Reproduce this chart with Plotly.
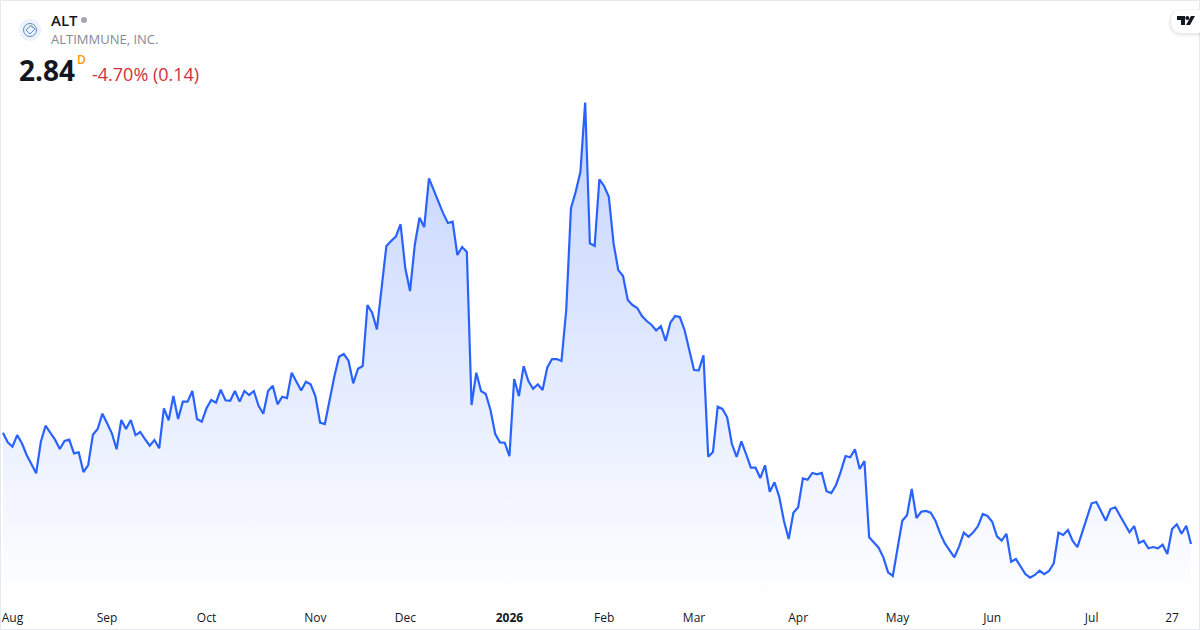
import plotly.graph_objects as go

prices = [
3.709,3.634,3.600,3.691,3.627,3.535,3.465,3.392,3.639,3.764,
3.709,3.655,3.582,3.645,3.655,3.548,3.556,3.402,3.457,3.694,
3.738,3.858,3.783,3.705,3.580,3.809,3.738,3.809,3.691,3.715,
3.660,3.608,3.652,3.588,3.900,3.806,3.996,3.816,3.952,3.952,
4.035,3.816,3.795,3.900,3.965,3.944,4.045,3.963,3.959,4.035,
3.952,4.035,4.004,4.035,3.920,3.858,4.035,4.077,3.931,3.991,
3.980,4.178,4.108,4.039,4.108,4.088,3.996,3.788,3.777,3.978,
4.147,4.303,4.324,4.272,4.095,4.209,4.230,4.707,4.647,4.517,
4.850,5.168,5.207,5.241,5.338,4.994,4.816,5.176,5.389,5.316,
5.697,5.605,5.514,5.423,5.348,5.358,5.098,5.160,5.121,3.926,
4.178,4.035,4.012,3.887,3.699,3.634,3.631,3.527,4.129,3.996,
4.230,4.113,4.053,4.088,4.043,4.220,4.285,4.285,4.270,4.668,
5.463,5.592,5.748,6.288,5.189,5.168,5.689,5.637,5.553,5.189,
4.980,4.934,4.746,4.707,4.684,4.621,4.582,4.553,4.509,4.541,
4.426,4.569,4.621,4.613,4.512,4.355,4.199,4.197,4.314,3.522,
3.559,3.913,3.895,3.830,3.621,3.520,3.642,3.543,3.436,3.436,
3.355,3.455,3.248,3.322,3.209,3.020,2.879,3.084,3.127,3.353,
3.342,3.395,3.384,3.395,3.252,3.238,3.301,3.405,3.527,3.517,
3.580,3.426,3.488,2.892,2.855,2.811,2.736,2.619,2.590,2.824,
3.022,3.064,3.270,3.043,3.092,3.098,3.084,3.022,2.923,2.845,
2.793,2.736,2.819,2.928,2.897,2.931,2.980,3.074,3.059,3.014,
2.900,2.866,2.920,2.702,2.723,2.663,2.605,2.577,2.598,2.631,
2.605,2.629,2.689,2.928,2.910,2.949,2.863,2.816,2.928,3.041,
3.158,3.168,3.088,3.022,3.113,3.127,3.061,2.996,2.931,2.980,
2.848,2.866,2.806,2.816,2.806,2.834,2.762,2.957,2.994,2.920,
2.983,2.840,
]
sessions = list(range(len(prices)))
tick_sessions = [2, 22, 43, 66, 85, 107, 127, 146, 168, 189, 209, 230, 247]
tick_labels = ["Aug", "Sep", "Oct", "Nov", "Dec", "<b>2026</b>", "Feb", "Mar", "Apr", "May", "Jun", "Jul", "27"]

W, H, MB = 1200, 630, 27
PH = H - MB
FONT = "Open Sans"
LINE = "#2962FF"


def px(x):
    return x / W


def py(y):
    return 1 - y / PH


def path(points, close=True):
    s = "M" + " L".join(f"{px(x):.5f},{py(y):.5f}" for x, y in points)
    return s + (" Z" if close else "")


def circle(cx, cy, r, **kw):
    return dict(type="circle", xref="paper", yref="paper", x0=px(cx - r), x1=px(cx + r),
                y0=py(cy + r), y1=py(cy - r), **kw)


def pill(x0, y0, x1, y1, r, fill):
    s = (f"M{px(x1)},{py(y0)} L{px(x0 + r)},{py(y0)} "
         f"Q{px(x0)},{py(y0)} {px(x0)},{py(y0 + r)} L{px(x0)},{py(y1 - r)} "
         f"Q{px(x0)},{py(y1)} {px(x0 + r)},{py(y1)} L{px(x1)},{py(y1)} Z")
    return dict(type="path", xref="paper", yref="paper", path=s, fillcolor=fill, line_width=0)


def label(x, y, text, size, color, weight=400):
    return dict(xref="paper", yref="paper", x=px(x), y=py(y), text=text, showarrow=False,
                xanchor="left", yanchor="middle", xshift=-1, yshift=1, borderpad=0, align="left",
                font=dict(family=FONT, size=size, color=color, weight=weight))


fig = go.Figure(go.Scatter(
    x=sessions, y=prices, mode="lines", line=dict(color=LINE, width=2.2), fill="tozeroy",
    fillgradient=dict(type="vertical", start=6.29, stop=2.40,
                      colorscale=[[0, "rgba(41,98,255,0.28)"], [1, "rgba(41,98,255,0)"]]),
    hoverinfo="skip", showlegend=False))

shapes = [
    dict(type="rect", xref="paper", yref="paper", x0=px(0.5), x1=px(1199.5), y0=py(629.5), y1=py(0.5),
         line=dict(color="#E6E8EE", width=1), fillcolor="rgba(0,0,0,0)"),
    circle(30, 30, 11, fillcolor="#EEF2FB", line_width=0),
    circle(30, 30, 6.5, fillcolor="rgba(0,0,0,0)", line=dict(color="#5B8DC9", width=1)),
    dict(type="path", xref="paper", yref="paper", path=path([(26, 30), (31, 25.5), (35, 29), (30, 34)]),
         fillcolor="rgba(0,0,0,0)", line=dict(color="#5B8DC9", width=1)),
    dict(type="path", xref="paper", yref="paper", path=path([(27.5, 28.5), (30.5, 25.5), (33, 28)], close=False),
         fillcolor="rgba(0,0,0,0)", line=dict(color="#6DB58A", width=1)),
    circle(84, 20, 3, fillcolor="#A3A6AF", line_width=0),
    pill(1168, 9, 1200, 37, 14, "rgba(0,0,0,0.02)"),
    pill(1169, 9.5, 1200, 36, 13, "rgba(0,0,0,0.03)"),
    pill(1170, 10, 1200, 34.5, 12, "rgba(0,0,0,0.03)"),
    pill(1171, 10, 1200, 33, 11, "#FFFFFF"),
    dict(type="path", xref="paper", yref="paper", fillcolor="#131722", line_width=0,
         path=path([(1177, 16), (1185, 16), (1185, 25), (1181, 25), (1181, 20), (1177, 20)])),
    circle(1187.3, 18, 2, fillcolor="#131722", line_width=0),
    dict(type="path", xref="paper", yref="paper", fillcolor="#131722", line_width=0,
         path=path([(1191, 16), (1195, 16), (1190, 25), (1186, 25)])),
]

annotations = [
    label(51, 21, "ALT", 15, "#131722", 600),
    label(51, 40.5, "ALTIMMUNE, INC.", 13, "#868993"),
    label(19, 71, "2.84", 28, "#131722", 700),
    label(77, 61, "D", 12, "#FF9800", 600),
    label(92, 74.5, "-4.70% (0.14)", 18, "#D32F3F"),
]

fig.update_layout(
    width=W, height=H, margin=dict(l=0, r=0, t=0, b=MB, pad=0),
    paper_bgcolor="white", plot_bgcolor="white",
    shapes=shapes, annotations=annotations,
    font=dict(family=FONT, size=12, color="#131722"),
    xaxis=dict(range=[-0.63, 252.9], tickmode="array", tickvals=tick_sessions, ticktext=tick_labels,
               showgrid=False, zeroline=False, showline=False, ticks="", tickangle=0, ticklabelstandoff=6,
               tickfont=dict(family=FONT, size=12, color="#131722"), fixedrange=True),
    yaxis=dict(range=[2.379, 7.09], visible=False, fixedrange=True),
)

fig.write_html("out.html", config=dict(displayModeBar=False),
               post_script="document.body.style.margin='0';document.body.style.overflow='hidden';")
